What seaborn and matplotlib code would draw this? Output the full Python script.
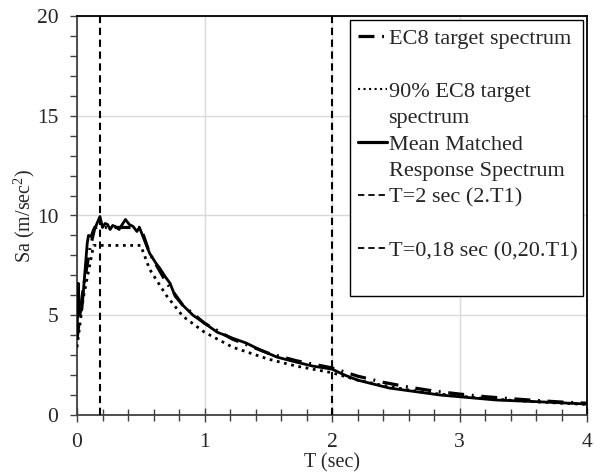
import matplotlib
matplotlib.use("Agg")
import matplotlib.pyplot as plt
import numpy as np
import pandas as pd
import seaborn as sns
from matplotlib.lines import Line2D
from matplotlib.ticker import MultipleLocator

# ---------------- data ----------------
T_ec8 = [0.0, 0.05, 0.10, 0.14, 0.50, 0.57, 0.70, 0.83, 1.00, 1.22, 1.50, 1.72, 2.00,
         2.20, 2.40, 2.60, 2.80, 3.00, 3.20, 3.40, 3.60, 3.80, 4.00]
sa_ec8 = [3.8, 6.4, 8.3, 9.4, 9.4, 8.1, 6.65, 5.5, 4.6, 3.8, 3.1, 2.72, 2.36,
          1.95, 1.64, 1.40, 1.20, 1.05, 0.92, 0.82, 0.73, 0.65, 0.59]

T_ec8_90 = [0.0, 0.05, 0.13, 0.50, 0.57, 0.70, 0.83, 1.00, 1.22, 1.50, 1.72, 2.00,
            2.20, 2.40, 2.60, 2.80, 3.00, 3.20, 3.40, 3.60, 3.80, 4.00]
sa_ec8_90 = [3.4, 5.9, 8.5, 8.5, 7.3, 6.0, 4.95, 4.15, 3.4, 2.8, 2.45, 2.12,
             1.75, 1.48, 1.26, 1.08, 0.95, 0.83, 0.74, 0.66, 0.59, 0.53]

T_mean = [0.00, 0.01, 0.02, 0.04, 0.06, 0.08, 0.09, 0.11, 0.13, 0.15, 0.18, 0.20,
          0.22, 0.24, 0.26, 0.28, 0.30, 0.33, 0.36, 0.38, 0.41, 0.44, 0.47, 0.49,
          0.52, 0.57, 0.62, 0.65, 0.69, 0.73, 0.77, 0.83, 0.91, 0.99, 1.10, 1.22,
          1.33, 1.44, 1.57, 1.72, 1.85, 2.00, 2.10, 2.20, 2.45, 2.85, 3.29, 3.60, 4.00]
sa_mean = [3.9, 6.6, 5.0, 5.4, 7.0, 8.6, 9.0, 8.95, 9.3, 9.5, 9.95, 9.4,
           9.6, 9.55, 9.3, 9.5, 9.45, 9.3, 9.6, 9.8, 9.55, 9.45, 9.2, 9.4,
           8.9, 8.1, 7.6, 7.35, 6.95, 6.6, 5.95, 5.5, 5.0, 4.65, 4.15, 3.85,
           3.6, 3.25, 2.9, 2.65, 2.45, 2.3, 2.0, 1.75, 1.35, 1.0, 0.75, 0.67, 0.55]

T_vlines = [2.0, 0.18]

legend_labels = ["EC8 target spectrum", "90% EC8 target", "spectrum",
                 "Mean Matched", "Response Spectrum",
                 "T=2 sec (2.T1)", "T=0,18 sec (0,20.T1)"]

x_ticks = [0, 1, 2, 3, 4]
y_ticks = [0, 5, 10, 15, 20]

# ---------------- style ----------------
sns.set_style("white")
plt.rcParams["font.family"] = ["Liberation Serif", "DejaVu Serif"]
plt.rcParams["mathtext.fontset"] = "custom"
plt.rcParams["mathtext.rm"] = "Liberation Serif"
plt.rcParams["mathtext.it"] = "Liberation Serif:italic"

FS_LAB = 14.5
FS_TICK = 15.5
FS_LEG = 16
EC8_DASH = (0, (5, 2.4, 0.6, 2.4))
VDASH = (0, (3.5, 2.2))

fig = plt.figure(figsize=(5.95, 4.73), dpi=100)
ax = fig.add_axes([77 / 595, 1 - 415 / 473, 510 / 595, 399 / 473])

df_ec8 = pd.DataFrame({"T": T_ec8, "Sa": sa_ec8})
df_90 = pd.DataFrame({"T": T_ec8_90, "Sa": sa_ec8_90})
df_mean = pd.DataFrame({"T": T_mean, "Sa": sa_mean})

sns.lineplot(data=df_90, x="T", y="Sa", ax=ax, color="black", lw=2.0,
             linestyle=":", sort=False, zorder=3)
sns.lineplot(data=df_ec8, x="T", y="Sa", ax=ax, color="black", lw=2.3,
             linestyle=EC8_DASH, sort=False, zorder=4)
sns.lineplot(data=df_mean, x="T", y="Sa", ax=ax, color="black", lw=2.0,
             sort=False, zorder=5)
for tv in T_vlines:
    ax.axvline(tv, color="black", lw=1.5, linestyle=VDASH, zorder=6)

ax.set_xlim(0, 4)
ax.set_ylim(0, 20)
ax.set_xticks(x_ticks)
ax.set_yticks(y_ticks)
ax.xaxis.set_minor_locator(MultipleLocator(0.2))
ax.yaxis.set_minor_locator(MultipleLocator(1))
ax.grid(True, which="major", color="#d9d9d9", lw=1)
ax.set_axisbelow(True)

ax.tick_params(axis="x", which="major", direction="inout", length=10, width=1,
               color="#404040", labelsize=FS_TICK, pad=8, bottom=True)
ax.tick_params(axis="x", which="minor", direction="inout", length=8, width=1,
               color="#404040", bottom=True)
ax.tick_params(axis="y", which="major", direction="out", length=5, width=1,
               color="#404040", labelsize=FS_TICK, pad=8.5, left=True)
ax.tick_params(axis="y", which="minor", direction="out", length=5, width=1,
               color="#404040", left=True)

for side in ["left", "bottom"]:
    ax.spines[side].set_color("#404040")
    ax.spines[side].set_linewidth(1.3)
for side in ["top", "right"]:
    ax.spines[side].set_color("black")
    ax.spines[side].set_linewidth(1.3)
    ax.spines[side].set_visible(True)

ax.set_xlabel("T (sec)", fontsize=FS_LAB, labelpad=1)
ax.set_ylabel("Sa (m/sec$^2$)", fontsize=FS_LAB, labelpad=0)

blank = Line2D([], [], color="none")
handles = [
    Line2D([], [], color="black", lw=2.3, linestyle=EC8_DASH),
    blank,
    Line2D([], [], color="black", lw=1.5, linestyle=":"),
    blank,
    Line2D([], [], color="black", lw=2.3),
    blank,
    Line2D([], [], color="black", lw=1.3, linestyle=VDASH),
    blank,
    Line2D([], [], color="black", lw=1.3, linestyle=VDASH),
    blank,
]
labels = [legend_labels[0], " ", legend_labels[1], legend_labels[2],
          legend_labels[3], legend_labels[4], legend_labels[5], " ",
          legend_labels[6], " "]
leg = ax.legend(handles, labels, loc="upper left",
                bbox_to_anchor=(0.535, 0.0, 0.457, 0.99), mode="expand",
                borderaxespad=0, fontsize=FS_LEG, frameon=True, fancybox=False,
                edgecolor="black", framealpha=1, handlelength=1.3,
                handletextpad=0.08, labelspacing=0.27, borderpad=0.36)
leg.get_frame().set_linewidth(1.0)

fig.savefig("out.png", dpi=100)
